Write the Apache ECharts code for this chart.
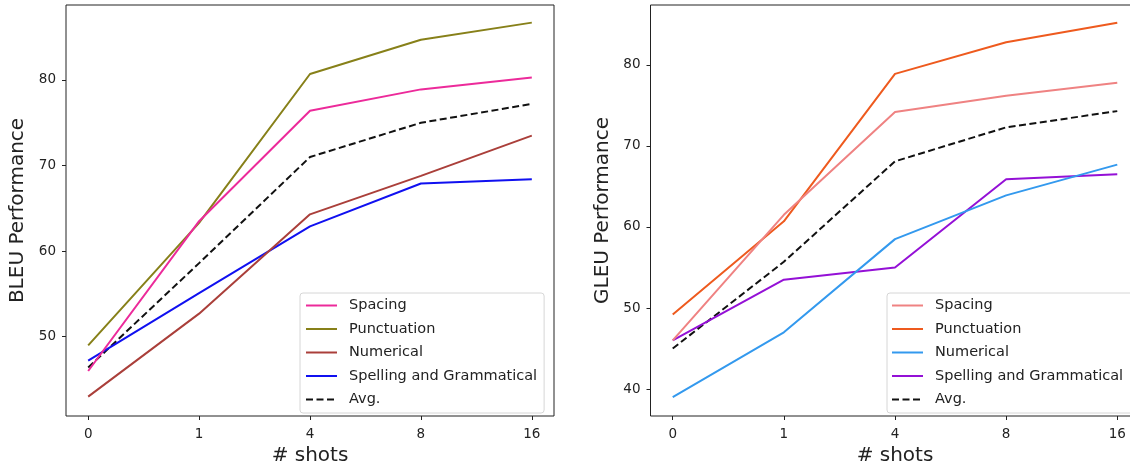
<!DOCTYPE html>
<html>
<head>
    <meta charset="utf-8">
    <title>BLEU / GLEU vs shots</title>
    <script src="https://cdn.jsdelivr.net/npm/echarts@6/dist/echarts.min.js"></script>
    <style type="text/css">
        body { margin: 0; background: #fff; }
        #wrap { position: relative; width: 1130px; height: 465px; overflow: hidden; }
        .pane { position: absolute; top: 0; width: 565px; height: 465px; }
    </style>
</head>
<body>
<div id="wrap">
    <div id="left" class="pane" style="left: 0;"></div>
    <div id="right" class="pane" style="left: 565px;"></div>
</div>
<script type="text/javascript">
    // x categories (number of shots)
    var shots = ['0', '1', '4', '8', '16'];
    var names = ['Spacing', 'Punctuation', 'Numerical', 'Spelling and Grammatical', 'Avg.'];

    // BLEU (left)
    var bleuSpacing = [46.0, 63.5, 76.4, 78.9, 80.3];
    var bleuPunct = [49.0, 63.3, 80.7, 84.7, 86.7];
    var bleuNumer = [43.0, 52.7, 64.3, 68.8, 73.5];
    var bleuSpell = [47.2, 55.1, 62.9, 67.9, 68.4];
    var bleuAvg = [46.4, 58.6, 71.0, 75.0, 77.2];

    // GLEU (right)
    var gleuSpacing = [46.0, 61.5, 74.2, 76.2, 77.8];
    var gleuPunct = [49.2, 60.7, 78.9, 82.8, 85.2];
    var gleuNumer = [39.0, 47.0, 58.5, 63.9, 67.7];
    var gleuSpell = [46.0, 53.5, 55.0, 65.9, 66.5];
    var gleuAvg = [45.0, 55.7, 68.1, 72.3, 74.3];

    var bleuTicks = [50, 60, 70, 80];
    var gleuTicks = [40, 50, 60, 70, 80];

    var FONT = 'DejaVu Sans';

    function toPts(arr) {
        return arr.map(function (v, i) { return [i, v]; });
    }

    function makeOption(cfg) {
        var series = cfg.data.map(function (arr, k) {
            var avg = k === 4;
            return {
                name: names[k],
                type: 'line',
                symbol: 'none',
                data: toPts(arr),
                lineStyle: {
                    color: cfg.colors[k],
                    width: 2,
                    type: avg ? [7, 3.5] : 'solid'
                },
                itemStyle: {color: cfg.colors[k]},
                z: 10 - k,
                animation: false
            };
        });
        return {
            animation: false,
            grid: {
                left: cfg.grid[0], right: cfg.grid[1], top: 5, bottom: 49,
                outerBoundsMode: 'none',
                show: true, borderColor: '#222', borderWidth: 1
            },
            legend: {
                orient: 'vertical',
                left: cfg.legendLeft,
                top: 293,
                data: names,
                itemWidth: 31,
                itemHeight: 14,
                itemGap: 8.5,
                padding: cfg.legendPad,
                borderColor: '#d6d6d6',
                borderWidth: 1,
                borderRadius: 3,
                backgroundColor: 'rgba(255,255,255,0.8)',
                selectedMode: false,
                itemStyle: {opacity: 0},
                textStyle: {fontFamily: FONT, fontSize: 14.5, color: '#222', padding: [0, 0, 0, 7]}
            },
            xAxis: {
                type: 'value',
                min: -0.2,
                max: 4.2,
                name: '# shots',
                nameLocation: 'middle',
                nameGap: 30,
                nameTextStyle: {fontFamily: FONT, fontSize: 20, color: '#222'},
                splitLine: {show: false},
                axisLine: {show: false, onZero: false},
                axisTick: {show: true, length: 4, lineStyle: {color: '#222'}, customValues: [0, 1, 2, 3, 4]},
                axisLabel: {
                    customValues: [0, 1, 2, 3, 4],
                    margin: 11,
                    fontFamily: FONT, fontSize: 13.5, color: '#222',
                    formatter: function (v) { return shots[Math.round(v)]; }
                }
            },
            yAxis: {
                type: 'value',
                min: cfg.yMin,
                max: cfg.yMax,
                name: cfg.yName,
                nameLocation: 'middle',
                nameGap: cfg.nameGap,
                nameTextStyle: {fontFamily: FONT, fontSize: 20, color: '#222'},
                splitLine: {show: false},
                axisLine: {show: false, onZero: false},
                axisTick: {show: true, length: 4, lineStyle: {color: '#222'}, customValues: cfg.ticks},
                axisLabel: {
                    customValues: cfg.ticks,
                    margin: 10,
                    fontFamily: FONT, fontSize: 13.5, color: '#222'
                }
            },
            series: series
        };
    }

    var leftChart = echarts.init(document.getElementById('left'));
    leftChart.setOption(makeOption({
        data: [bleuSpacing, bleuPunct, bleuNumer, bleuSpell, bleuAvg],
        colors: ['#ec2a9a', '#878019', '#aa3f3a', '#1010f0', '#111111'],
        grid: [66, 11],
        yMin: 40.74, yMax: 88.76,
        ticks: bleuTicks,
        yName: 'BLEU Performance',
        nameGap: 37,
        legendLeft: 300,
        legendPad: [5, 7, 6, 5]
    }));

    var rightChart = echarts.init(document.getElementById('right'));
    rightChart.setOption(makeOption({
        data: [gleuSpacing, gleuPunct, gleuNumer, gleuSpell, gleuAvg],
        colors: ['#ef8282', '#ee5a1e', '#3399ee', '#9410d6', '#111111'],
        grid: [85.5, -9.5],
        yMin: 36.67, yMax: 87.4,
        ticks: gleuTicks,
        yName: 'GLEU Performance',
        nameGap: 32.5,
        legendLeft: 322,
        legendPad: [5, 12, 6, 4]
    }));
</script>
</body>
</html>
